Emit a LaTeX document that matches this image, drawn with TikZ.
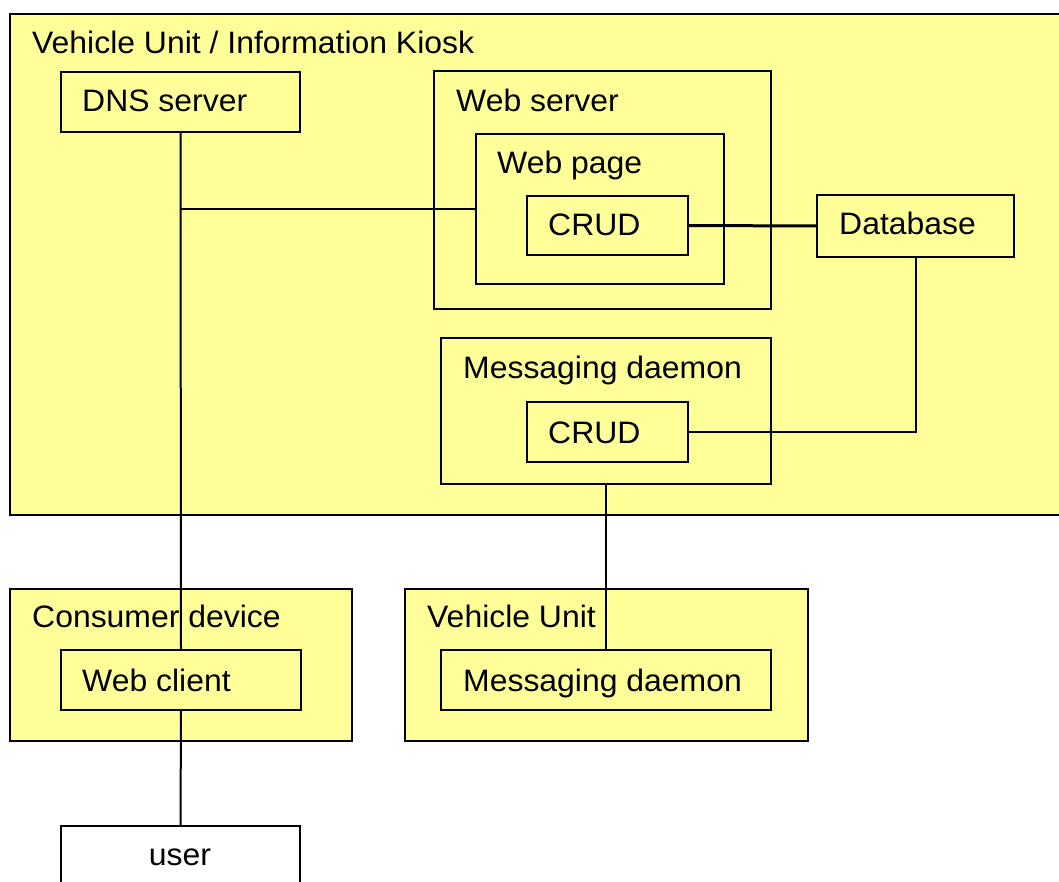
\documentclass[tikz,border=0pt]{standalone}
\usepackage{fontspec}
\setmainfont[FakeStretch=1.03]{Liberation Sans}
\definecolor{boxyellow}{HTML}{FFFF99}
\begin{document}
\begin{tikzpicture}[x=1pt,y=-1pt,
  box/.style={draw=black,line width=2pt,fill=boxyellow,rectangle,inner sep=0pt,anchor=north west},
  whitebox/.style={draw=black,line width=2pt,fill=white,rectangle,inner sep=0pt,anchor=north west},
  txt/.style={anchor=base west,inner sep=0pt,font=\fontsize{31}{37}\selectfont},
  ctxt/.style={anchor=base,inner sep=0pt,font=\fontsize{31}{37}\selectfont},
  wire/.style={draw=black,line width=2pt},
  thickwire/.style={draw=black,line width=3pt}]
\useasboundingbox (0,0) rectangle (1059,882);
% outer container
\node[box,minimum width=1070pt,minimum height=501pt] (kiosk) at (9,13) {};
\node[txt] (kiosklbl) at (32,54) {Vehicle Unit / Information Kiosk};
% DNS server
\node[box,minimum width=239pt,minimum height=60pt] (dns) at (60,71) {};
\node[txt] (dnslbl) at (82,112) {DNS server};
% Web server
\node[box,minimum width=337pt,minimum height=238pt] (ws) at (433,70) {};
\node[txt] (wslbl) at (456,112) {Web server};
\node[box,minimum width=248pt,minimum height=150pt] (wp) at (475,133) {};
\node[txt] (wplbl) at (497,174) {Web page};
\node[box,minimum width=161pt,minimum height=59pt] (crudw) at (526,195) {};
\node[txt] (crudwlbl) at (548,236) {CRUD};
% Database
\node[box,minimum width=197pt,minimum height=62pt] (db) at (816,194) {};
\node[txt] (dblbl) at (839,235) {Database};
% Messaging daemon
\node[box,minimum width=330pt,minimum height=146pt] (md) at (440,337) {};
\node[txt] (mdlbl) at (463,378) {Messaging daemon};
\node[box,minimum width=161pt,minimum height=60pt] (crudm) at (526,401) {};
\node[txt] (crudmlbl) at (548,443) {CRUD};
% Consumer device
\node[box,minimum width=342pt,minimum height=152pt] (cd) at (9,588) {};
\node[txt] (cdlbl) at (32,627) {Consumer device};
\node[box,minimum width=240pt,minimum height=60pt] (wc) at (60,649) {};
\node[txt] (wclbl) at (82,691) {Web client};
% Vehicle Unit
\node[box,minimum width=403pt,minimum height=152pt] (vu) at (404,588) {};
\node[txt] (vulbl) at (427,627) {Vehicle Unit};
\node[box,minimum width=330pt,minimum height=60pt] (vumd) at (440,649) {};
\node[txt] (vumdlbl) at (463,691) {Messaging daemon};
% user
\node[whitebox,minimum width=239pt,minimum height=80pt] (user) at (60,825) {};
\node[ctxt] (userlbl) at (180,865) {user};
% connectors
\draw[wire] (dns.south) -- (wc.north);
\draw[wire] (dns.south |- wp.west) -- (wp.west);
\draw[thickwire] (crudw.east) -- (db.west);
\draw[wire] (db.south) |- (crudm.east);
\draw[wire] (md.south) -- (vumd.north);
\draw[wire] (wc.south) -- (user.north);
\end{tikzpicture}
\end{document}
